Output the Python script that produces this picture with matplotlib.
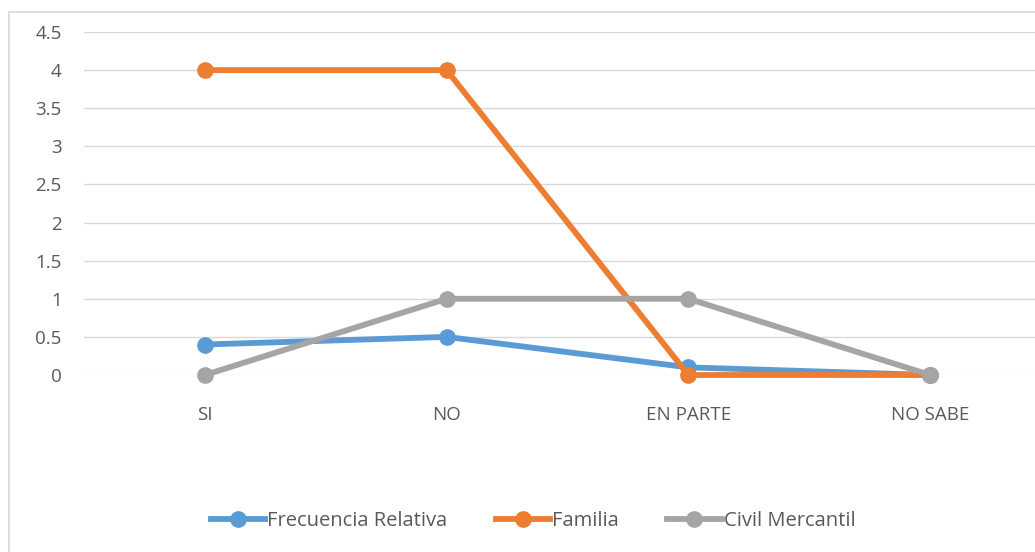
import matplotlib.pyplot as plt
from matplotlib.patches import Rectangle

categories = ['SI', 'NO', 'EN PARTE', 'NO SABE']
frecuencia = [0.4, 0.5, 0.1, 0]
familia = [4, 4, 0, 0]
civil = [0, 1, 1, 0]

plt.rcParams['font.family'] = ['Open Sans', 'DejaVu Sans']

fig = plt.figure(figsize=(10.35, 5.52), dpi=100)
fig.patches.append(Rectangle((9 / 1035, -0.01), 1.0, 1 - 12 / 552 + 0.01,
                             transform=fig.transFigure, fill=False,
                             edgecolor='#D9D9D9', linewidth=1.2))

ax = fig.add_axes([84 / 1035, 1 - 375 / 552, (1051 - 84) / 1035, (375 - 32) / 552])
x = range(len(categories))
ax.plot(x, frecuencia, color='#5B9BD5', linewidth=4.2, marker='o', markersize=11,
        label='Frecuencia Relativa', clip_on=False)
ax.plot(x, familia, color='#ED7D31', linewidth=4.2, marker='o', markersize=11,
        label='Familia', clip_on=False)
ax.plot(x, civil, color='#A5A5A5', linewidth=4.2, marker='o', markersize=11,
        label='Civil Mercantil', clip_on=False)

ax.set_xlim(-0.5, 3.5)
ax.set_ylim(0, 4.5)
ax.set_yticks([0, 0.5, 1, 1.5, 2, 2.5, 3, 3.5, 4, 4.5])
ax.set_yticklabels(['0', '0.5', '1', '1.5', '2', '2.5', '3', '3.5', '4', '4.5'])
ax.set_xticks(list(x))
ax.set_xticklabels(categories)
ax.tick_params(length=0, labelsize=13.5, colors='#595959')
ax.tick_params(axis='x', pad=22)
ax.tick_params(axis='y', pad=16)
ax.grid(axis='y', color='#D9D9D9', linewidth=1)
ax.set_axisbelow(True)
for s in ax.spines.values():
    s.set_visible(False)

fig.legend(loc='center', bbox_to_anchor=(533 / 1035, 1 - 521 / 552), ncol=3,
           frameon=False, fontsize=14.5, handlelength=2.7, columnspacing=2.4,
           handletextpad=0.1, labelcolor='#595959')

fig.savefig('out.png', dpi=100)
